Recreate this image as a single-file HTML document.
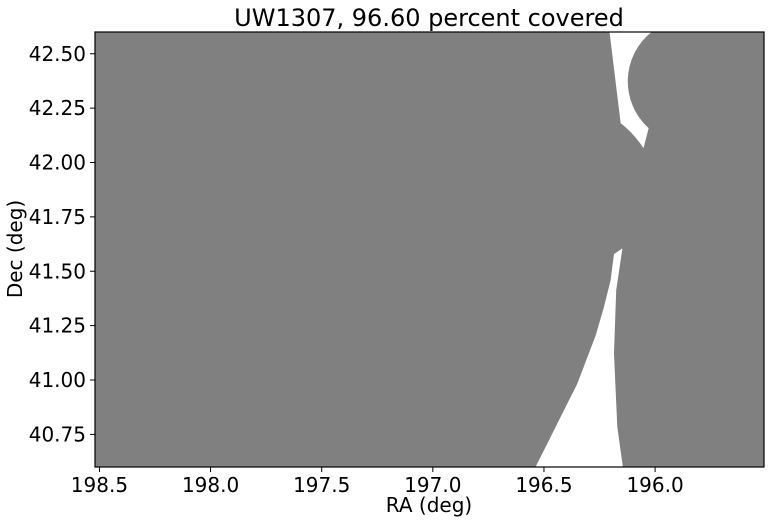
<!DOCTYPE html>
<html><head><meta charset="utf-8"><style>
body{margin:0;background:#fff;font-family:"Liberation Sans","DejaVu Sans",sans-serif}
svg text{font-family:"DejaVu Sans","Liberation Sans",sans-serif}
</style></head><body>
<svg id="chart" width="771" height="523" viewBox="0 0 771 523" xmlns="http://www.w3.org/2000/svg">
<text x="429" y="26" font-size="24" text-anchor="middle">UW1307, 96.60 percent covered</text>
<rect x="95" y="32" width="669" height="435" fill="#808080"/>
<g id="holes"></g>
<rect x="95" y="32" width="669" height="435" fill="none" stroke="#000" stroke-width="1.2"/>
<g id="xt"></g>
<g id="yt"></g>
<text x="429" y="512" font-size="20" text-anchor="middle">RA (deg)</text>
<text transform="translate(22,249) rotate(-90)" font-size="20" text-anchor="middle">Dec (deg)</text>
</svg>
<script>
const xTicks=[198.5,198.0,197.5,197.0,196.5,196.0];
const xTickLabels=["198.5","198.0","197.5","197.0","196.5","196.0"];
const yTicks=[40.75,41.0,41.25,41.5,41.75,42.0,42.25,42.5];
const yTickLabels=["40.75","41.00","41.25","41.50","41.75","42.00","42.25","42.50"];
const raRange=[198.52,195.51];
const decRange=[40.6,42.6];
const upperHoleRA=[196.205,196.155,196.097,196.052,196.029,196.016];
const upperHoleDec=[42.6,42.181,42.135,42.066,42.158,42.6];
const circleCenter=[195.836,42.37];
const lowerHoleRA=[196.147,196.185,196.200,196.230,196.267,196.350,196.418,196.478,196.538,196.145,196.170,196.185,196.175];
const lowerHoleDec=[41.605,41.579,41.459,41.336,41.206,40.983,40.845,40.722,40.600,40.600,40.784,41.121,41.413];
const L=95,R=764,T=32,B=467;
const X=v=>L+(v-raRange[0])/(raRange[1]-raRange[0])*(R-L);
const Y=v=>B-(v-decRange[0])/(decRange[1]-decRange[0])*(B-T);
const ns="http://www.w3.org/2000/svg";
function mk(t,a,p){const e=document.createElementNS(ns,t);for(const k in a)e.setAttribute(k,a[k]);p.appendChild(e);return e;}
const holes=document.getElementById('holes');
const u=upperHoleRA.map((r,i)=>[X(r),Y(upperHoleDec[i])]);
const cr=Math.hypot(u[4][0]-X(circleCenter[0]),u[4][1]-Y(circleCenter[1]));
let d=`M${u[0]} L${u[1]} Q${u[2]} ${u[3]} L${u[4]} A${cr} ${cr} 0 0 1 ${u[5]} Z`;
const p1=mk('path',{d:d,fill:'#fff'},holes);


const lw=lowerHoleRA.map((r,i)=>[X(r),Y(lowerHoleDec[i])]);
const p2=mk('polygon',{points:lw.map(p=>p.join(',')).join(' '),fill:'#fff'},holes);


const xt=document.getElementById('xt');
xTicks.forEach((v,i)=>{const x=X(v);
 const l=mk('line',{x1:x,x2:x,y1:B,y2:B+5,stroke:'#000'},xt);
 
 
 const t=mk('text',{x:x,y:B+25,'font-size':20,'text-anchor':'middle'},xt);t.textContent=xTickLabels[i];
 
 
});
const yt=document.getElementById('yt');
yTicks.forEach((v,i)=>{const y=Y(v);
 const l=mk('line',{x1:L-5,x2:L,y1:y,y2:y,stroke:'#000'},yt);
 
 
 const t=mk('text',{x:L-9,y:y+7,'font-size':20,'text-anchor':'end'},yt);t.textContent=yTickLabels[i];
 
 
});
</script>
</body></html>
